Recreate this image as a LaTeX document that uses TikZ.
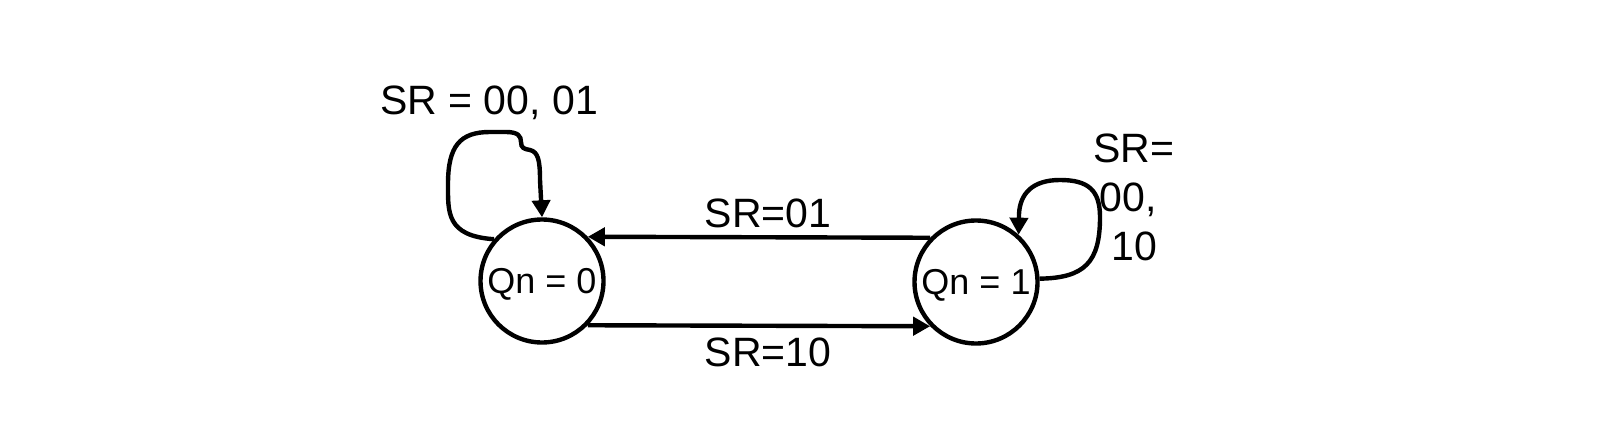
\documentclass[tikz,border=0pt]{standalone}
\usepackage{fontspec}
\setmainfont{Liberation Sans}
\usetikzlibrary{arrows.meta,positioning}
\tikzset{
  >={Triangle[length=8.5pt,width=9pt]},
  state/.style={circle,draw,line width=2.2pt,minimum size=61.5pt,inner sep=0pt,
    text depth=0pt,font=\fontsize{18pt}{20pt}\selectfont},
  flow/.style={->,line width=2.2pt},
  tag/.style={font=\fontsize{20.5pt}{24.5pt}\selectfont,align=center,inner sep=0pt},
}
\begin{document}
\begin{tikzpicture}[x=0.5pt,y=-0.5pt]
  \useasboundingbox (0,0) rectangle (1599,427);
  \node[state] (q0) at (542,281) {Qn = 0};
  \node[state] (q1) at (976,282) {Qn = 1};
  % transitions between the states
  \draw[flow] (q1.136) -- (q0.44);
  \draw[flow] (q0.-44) -- (q1.-136);
  \node[tag] (t01) at (768,213) {SR=01};
  \node[tag] (t10) at (768,352) {SR=10};
  % self loops
  \draw[flow] (q0.139) .. controls (446,236) and (448,212) .. (448,184)
    .. controls (448,146) and (460,132) .. (490,132) -- (506,132)
    .. controls (518,132) and (521,136) .. (521,142)
    .. controls (521,148) and (524,149) .. (530,150)
    .. controls (538,152) and (540,160) .. (540,180) -- (q0.north);
  \node[tag] (tl) at (489,103) {SR = 00, 01};
  \draw[flow] (q1.3) .. controls (1085,278) and (1100,262) .. (1100,217)
    .. controls (1100,190) and (1088,180) .. (1060,180)
    .. controls (1032,180) and (1020,194) .. (1019,214) -- (q1.48);
  \node[tag] (tr) at (1134,197) {SR=\\00,\kern0.28em\\10};
\end{tikzpicture}
\end{document}
